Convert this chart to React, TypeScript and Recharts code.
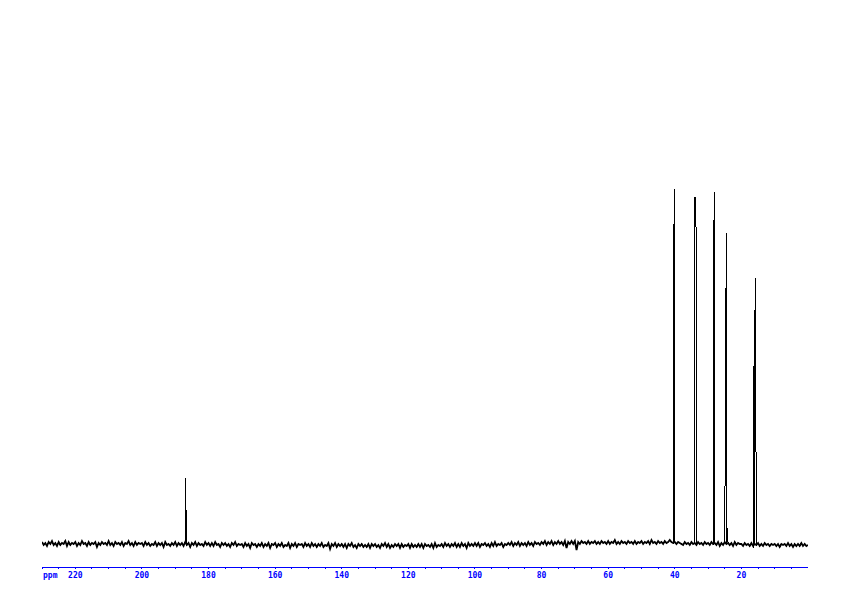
import React from "react";
import { LineChart, Line, XAxis, YAxis } from "recharts";

// 13C spectrum, baseline sampled every 0.5 ppm from 230 down to 0
const BASE_START = 230;
const BASE_STEP = 0.5;
const baseline = [
  3, 0, 2, -1, 3, 1, 4, 0, 2, -1, 3, 0, 2, 1, 4, -1, 3, 0, 2, 1,
  3, -1, 2, 0, 4, 1, 2, -1, 3, 0, 2, 1, 3, -2, 2, 0, 3, 1, 2, 0,
  4, 0, 2, -1, 3, 1, 2, 0, 3, -1, 2, 1, 4, 0, 2, -1, 3, 0, 2, 1,
  2, -1, 3, 0, 2, -1, 1, 0, 3, -1, 2, 0, 2, -2, 3, 0, 1, -1, 2, 0,
  3, -1, 2, 0, 2, -1, 3, 0, 2, -2, 2, 0, 3, -1, 2, 0, 1, -1, 3, 0,
  2, -1, 2, -1, 3, 0, 1, -2, 2, 0, 2, -1, 1, -2, 2, 0, 3, -1, 1, 0,
  1, -2, 2, -1, 1, -3, 2, 0, 1, -2, 1, -1, 2, -2, 1, -1, 2, -3, 1, 0,
  2, -2, 1, -1, 2, -2, 0, -1, 2, -3, 1, -1, 2, -2, 1, 0, 1, -2, 2, -1,
  1, -2, 2, -1, 1, -2, 1, -1, 2, -2, 0, -1, 2, -4, 1, -1, 2, -2, 1, -1,
  1, -2, 1, -3, 1, -1, 2, -2, 0, -3, 1, -1, 1, -2, 0, -2, 1, -3, 1, -1,
  1, -2, 0, -3, 1, -1, 2, -2, 1, -3, 0, -2, 1, -1, 1, -3, 1, -2, 0, -1,
  1, -3, 1, -2, 0, -2, 1, -2, 1, -3, 1, -1, 0, -2, 1, -3, 2, -2, 0, -1,
  1, -2, 2, -1, 1, -2, 1, -1, 2, -2, 1, -2, 2, -1, 1, -3, 2, -1, 1, -1,
  2, -1, 2, -2, 1, 0, 2, -1, 1, -2, 2, -1, 3, -1, 1, 0, 2, -2, 1, 0,
  2, 0, 3, -1, 2, 0, 3, -1, 2, 0, 2, -1, 3, 0, 2, -1, 3, 1, 2, 0,
  3, 1, 4, 0, 3, 1, 4, 0, 3, 1, 4, 1, 3, 0, 4, -3, 3, 1, 4, 1,
  4, -5, 3, 1, 4, 2, 3, 1, 4, 1, 3, 2, 4, 1, 3, 1, 4, 2, 3, 1,
  4, 1, 3, 2, 5, 1, 3, 1, 4, 2, 3, 1, 4, 2, 3, 1, 4, 1, 3, 2,
  4, 1, 3, 2, 4, 1, 5, 2, 3, 1, 4, 2, 3, 1, 4, 2, 3, 5, 3, 2,
  3, 1, 3, 2, 1, 0, 3, 1, 2, 0, 3, 1, 2, 0, 3, 1, 2, 0, 3, 1,
  2, 0, 3, 1, 2, 0, 3, -1, 2, 0, 3, 1, 2, 0, 2, -1, 3, 0, 2, 1,
  1, -1, 2, 0, 1, -1, 2, -1, 1, 0, 2, -1, 1, -1, 2, 0, 1, -1, 1, 0,
  1, -1, 1, -2, 1, 0, 1, -1, 2, -1, 1, -2, 1, -1, 1, -1, 2, -1, 1, -1,
  0,
];

const peakPpm = [187.0, 40.44, 40.14, 33.93, 33.63, 28.43, 28.13, 24.53, 24.3, 16.12, 15.82];
const peakHeight = [67, 238, 356, 348, 329, 262, 353, 312, 17, 235, 267];

const tickValues = [
  230, 225, 220, 215, 210, 205, 200, 195, 190, 185, 180, 175, 170, 165, 160, 155,
  150, 145, 140, 135, 130, 125, 120, 115, 110, 105, 100, 95, 90, 85, 80, 75, 70,
  65, 60, 55, 50, 45, 40, 35, 30, 25, 20, 15, 10, 5,
];
const labelledTicks = [220, 200, 180, 160, 140, 120, 100, 80, 60, 40, 20];

const BLUE = "#0000ff";

const baseData = baseline.map((v, i) => ({ ppm: BASE_START - i * BASE_STEP, v }));
const data = [...baseData, ...peakPpm.map((ppm, i) => ({ ppm, v: peakHeight[i] }))].sort(
  (a, b) => b.ppm - a.ppm
);

const PpmTick = (props: any) => {
  const { x, y, payload } = props;
  if (!labelledTicks.includes(payload.value)) return null;
  return (
    <text
      x={x}
      y={y + 9}
      textAnchor="middle"
      fill={BLUE}
      fontSize={8}
      fontWeight="bold"
      fontFamily="DejaVu Sans Mono, monospace"
    >
      {payload.value}
    </text>
  );
};

export default function App() {
  return (
    <div style={{ position: "absolute", left: 0, top: 0, background: "#fff" }}>
      <LineChart
        width={842}
        height={596}
        data={data}
        margin={{ top: 67, right: 34, bottom: 0, left: 42 }}
      >
        <XAxis
          dataKey="ppm"
          type="number"
          domain={[0, 230]}
          reversed
          allowDataOverflow
          ticks={tickValues}
          interval={0}
          height={29}
          stroke={BLUE}
          axisLine={{ stroke: BLUE, shapeRendering: "crispEdges" }}
          tickLine={{ stroke: BLUE, shapeRendering: "crispEdges" }}
          tickSize={2}
          tickMargin={0}
          tick={<PpmTick />}
          label={{
            content: ({ viewBox }: any) => (
              <text
                x={viewBox.x + 1}
                y={viewBox.y + 11}
                fill={BLUE}
                fontSize={8}
                fontWeight="bold"
                fontFamily="DejaVu Sans Mono, monospace"
              >
                ppm
              </text>
            ),
          }}
        />
        <YAxis hide domain={[-22, 478]} allowDataOverflow />
        <Line
          data={baseData}
          type="linear"
          dataKey="v"
          stroke="#000"
          strokeWidth={1.8}
          dot={false}
          isAnimationActive={false}
        />
        <Line
          type="linear"
          dataKey="v"
          stroke="#000"
          strokeWidth={1}
          dot={false}
          isAnimationActive={false}
          style={{ shapeRendering: "crispEdges" }}
        />
      </LineChart>
    </div>
  );
}
